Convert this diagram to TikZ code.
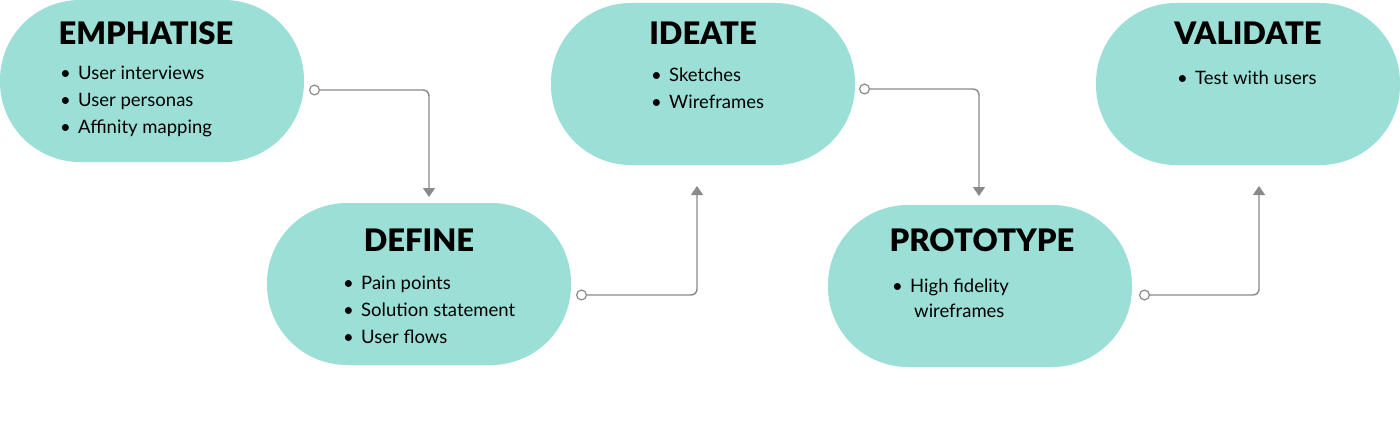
\documentclass[tikz,border=0pt]{standalone}
\usepackage{fontspec}
\setmainfont{Lato}
\newfontfamily\heavyfont{Lato Black}
\usetikzlibrary{arrows.meta}
\definecolor{pill}{HTML}{9CDFD7}
\definecolor{conngray}{HTML}{8A8A8A}
\tikzset{
  pillbox/.style={fill=pill, draw=none, rounded corners=80pt, minimum width=304pt, minimum height=162pt, inner sep=0pt},
  title/.style={font=\fontsize{31}{35}\selectfont\heavyfont, anchor=base},
  items/.style={font=\fontsize{18.5}{27}\selectfont, anchor=north west, align=left, inner sep=0pt},
  conn/.style={draw=conngray, line width=1.4pt, rounded corners=6pt,
    {Circle[open,length=11pt,width=11pt,line width=1.2pt]}-{Triangle[length=9pt,width=12pt]}}
}
\newcommand{\bul}{\makebox[18pt][l]{\textbullet}}
\begin{document}
\begin{tikzpicture}[x=1pt,y=-1pt]
\useasboundingbox (0,0) rectangle (1400,433);
\fill[white] (0,0) rectangle (1400,433);
% pills
\node[pillbox] (emp) at (152,81) {};
\node[pillbox] (def) at (419,284) {};
\node[pillbox] (ide) at (703,84) {};
\node[pillbox] (pro) at (980,286) {};
\node[pillbox] (val) at (1248,84) {};
% titles
\node[title] (empT) at (146,45) {EMPHATISE};
\node[title] (defT) at (419,251) {DEFINE};
\node[title] (ideT) at (703,45) {IDEATE};
\node[title] (proT) at (982,251) {PROTOTYPE};
\node[title] (valT) at (1248,45) {VALIDATE};
% bullet lists
\node[items] (empL) at (60,66) {\bul User interviews\\\bul User personas\\\bul Affinity mapping};
\node[items] (defL) at (343,276) {\bul Pain points\\\bul Solution statement\\\bul User flows};
\node[items] (ideL) at (651,68) {\bul Sketches\\\bul Wireframes};
\node[items] (proL) at (892,279) {\bul High fidelity\\[-2pt]\hspace*{22pt}wireframes};
\node[items] (valL) at (1177,71) {\bul Test with users};
% connector endpoints
\coordinate (c1s) at (309,90);
\coordinate (c1e) at (429,197);
\coordinate (c2s) at (576,295);
\coordinate (c2e) at (697,186);
\coordinate (c3s) at (859,89);
\coordinate (c3e) at (979,196);
\coordinate (c4s) at (1139,295);
\coordinate (c4e) at (1259,186);
\draw[conn] (c1s) -| (c1e);
\draw[conn] (c2s) -| (c2e);
\draw[conn] (c3s) -| (c3e);
\draw[conn] (c4s) -| (c4e);
\end{tikzpicture}
\end{document}
